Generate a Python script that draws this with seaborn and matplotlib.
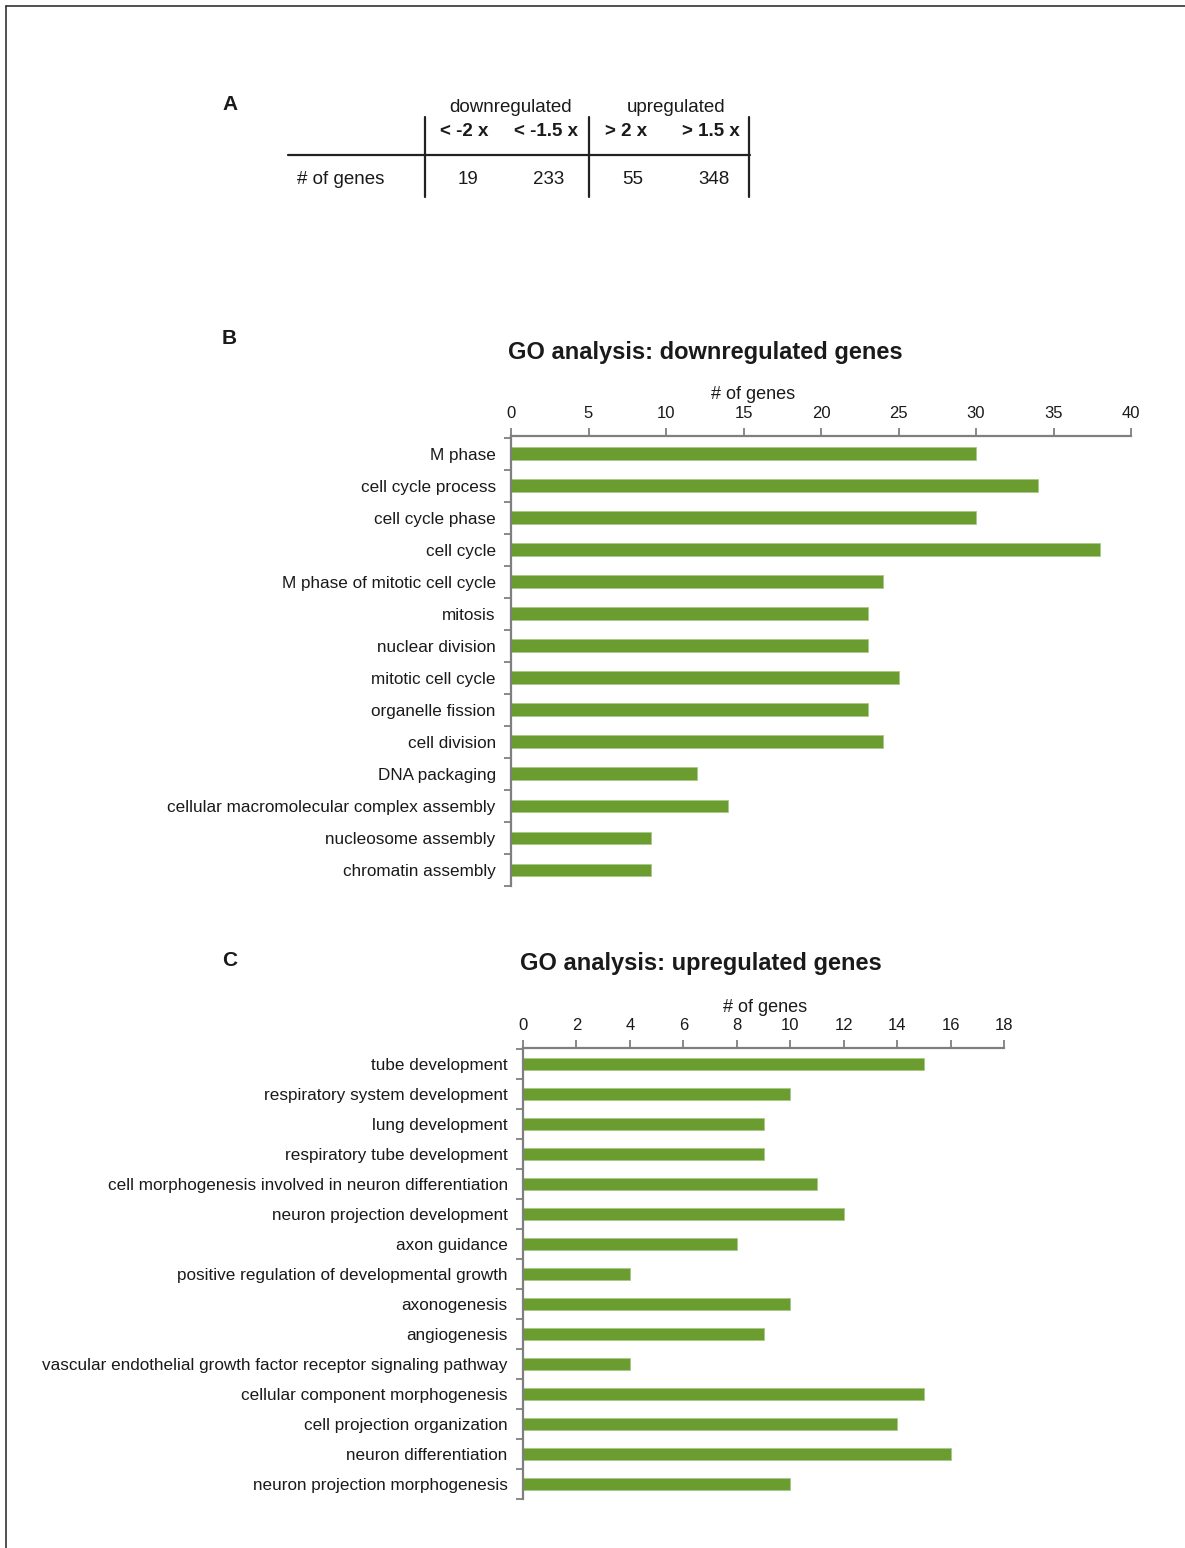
import matplotlib
matplotlib.use("Agg")
import matplotlib.pyplot as plt
from matplotlib.lines import Line2D
from matplotlib.ticker import FixedLocator
import numpy as np
import pandas as pd
import seaborn as sns

# ---------------- data ----------------
table_groups = ["downregulated", "upregulated"]
table_cols = ["< -2 x", "< -1.5 x", "> 2 x", "> 1.5 x"]
table_row_label = "# of genes"
table_values = [19, 233, 55, 348]

down_terms = ["M phase", "cell cycle process", "cell cycle phase", "cell cycle",
              "M phase of mitotic cell cycle", "mitosis", "nuclear division",
              "mitotic cell cycle", "organelle fission", "cell division",
              "DNA packaging", "cellular macromolecular complex assembly",
              "nucleosome assembly", "chromatin assembly"]
down_counts = [30, 34, 30, 38, 24, 23, 23, 25, 23, 24, 12, 14, 9, 9]
down_ticks = [0, 5, 10, 15, 20, 25, 30, 35, 40]

up_terms = ["tube development", "respiratory system development", "lung development",
            "respiratory tube development",
            "cell morphogenesis involved in neuron differentiation",
            "neuron projection development", "axon guidance",
            "positive regulation of developmental growth", "axonogenesis",
            "angiogenesis",
            "vascular endothelial growth factor receptor signaling pathway",
            "cellular component morphogenesis", "cell projection organization",
            "neuron differentiation", "neuron projection morphogenesis"]
up_counts = [15, 10, 9, 9, 11, 12, 8, 4, 10, 9, 4, 15, 14, 16, 10]
up_ticks = [0, 2, 4, 6, 8, 10, 12, 14, 16, 18]

# ---------------- style ----------------
sns.set_theme(style="white")
plt.rcParams["font.family"] = ["Liberation Sans", "DejaVu Sans"]

W, H = 1185, 1548
fig = plt.figure(figsize=(W / 100, H / 100), dpi=100)

BAR = "#6a9c2f"
SPINE = "#7f7f7f"
TXT = "#1a1a1a"

def fx(x):
    return x / W

def fy(y):
    return 1 - y / H

# page border (top and left)
fig.add_artist(Line2D([fx(6), fx(1185)], [fy(6), fy(6)], color="#333333", lw=1.2))
fig.add_artist(Line2D([fx(6), fx(6)], [fy(6), fy(1548)], color="#333333", lw=1.2))

# ---------------- panel A: table ----------------
for lab, y in [("A", 104), ("B", 339), ("C", 961)]:
    fig.text(fx(222), fy(y), lab, fontsize=15, fontweight="bold", va="center", ha="left", color=TXT)

fig.add_artist(Line2D([fx(288), fx(750)], [fy(155), fy(155)], color="#222222", lw=1.6))
for xv in [425, 589, 749]:
    fig.add_artist(Line2D([fx(xv), fx(xv)], [fy(117), fy(197)], color="#222222", lw=1.6))

fig.text(fx(511), fy(108), table_groups[0], fontsize=13.5, ha="center", va="center", color=TXT)
fig.text(fx(676), fy(108), table_groups[1], fontsize=13.5, ha="center", va="center", color=TXT)
for cx, s in zip([464, 546, 626, 711], table_cols):
    fig.text(fx(cx), fy(132), s, fontsize=13.5, fontweight="bold", ha="center", va="center", color=TXT)
fig.text(fx(341), fy(179), table_row_label, fontsize=13.5, ha="center", va="center", color=TXT)
for cx, v in zip([468, 549, 633, 714], table_values):
    fig.text(fx(cx), fy(179), str(v), fontsize=13.5, ha="center", va="center", color=TXT)


def bar_panel(rect, terms, counts, ticks, title, title_xy, xlab_xy):
    ax = fig.add_axes(rect)
    df = pd.DataFrame({"term": terms, "count": counts})
    sns.barplot(data=df, x="count", y="term", orient="h", color=BAR,
                width=0.4, ax=ax, saturation=1, edgecolor="#a8c98a", linewidth=0.6)
    n = len(terms)
    ax.set_xlim(ticks[0], ticks[-1])
    ax.set_ylim(n - 0.5, -0.55)
    ax.xaxis.set_ticks_position("top")
    ax.xaxis.set_label_position("top")
    ax.set_xticks(ticks)
    ax.set_xticklabels([str(t) for t in ticks], fontsize=12, color=TXT)
    ax.tick_params(axis="x", direction="out", length=6, width=1.3, color=SPINE, pad=5)
    ax.tick_params(axis="y", which="major", length=0, pad=11, labelsize=12.3, labelcolor=TXT)
    ax.yaxis.set_minor_locator(FixedLocator(np.arange(-0.5, n, 1.0)))
    ax.tick_params(axis="y", which="minor", direction="out", length=5, width=1.3, color=SPINE, left=True)
    for s in ["right", "bottom"]:
        ax.spines[s].set_visible(False)
    for s in ["top", "left"]:
        ax.spines[s].set_color(SPINE)
        ax.spines[s].set_linewidth(1.6)
    ax.set_xlabel("")
    ax.set_ylabel("")
    ax.grid(False)
    fig.text(fx(title_xy[0]), fy(title_xy[1]), title, fontsize=17, fontweight="bold",
             ha="center", va="center", color=TXT)
    fig.text(fx(xlab_xy[0]), fy(xlab_xy[1]), "# of genes", fontsize=13,
             ha="center", va="center", color=TXT)
    return ax

# panel B
bar_panel([fx(511), fy(886), fx(1131) - fx(511), fy(436) - fy(886)],
          down_terms, down_counts, down_ticks,
          "GO analysis: downregulated genes", (705, 352), (753, 394))

# panel C
bar_panel([fx(523), fy(1499), fx(1004) - fx(523), fy(1048) - fy(1499)],
          up_terms, up_counts, up_ticks,
          "GO analysis: upregulated genes", (701, 964), (765, 1007))

fig.savefig("out.png", dpi=100, facecolor="white")
